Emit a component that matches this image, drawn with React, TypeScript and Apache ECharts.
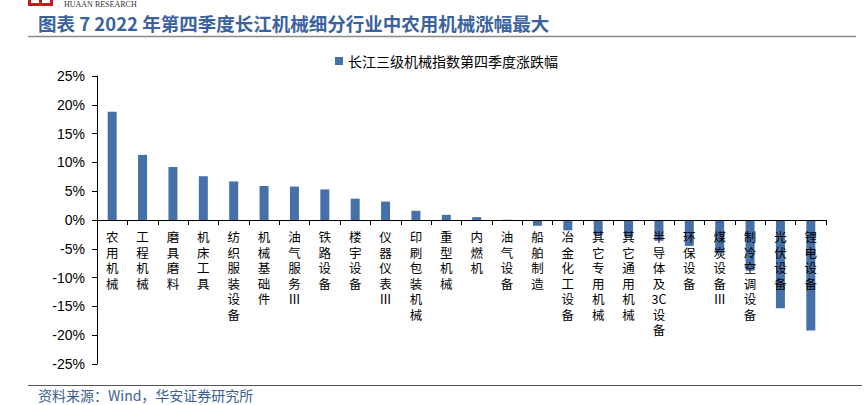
import React, { useEffect, useRef } from "react";
import * as echarts from "echarts";

const categories = [
  "农用机械", "工程机械", "磨具磨料", "机床工具", "纺织服装设备", "机械基础件",
  "油气服务Ⅲ", "铁路设备", "楼宇设备", "仪器仪表Ⅲ", "印刷包装机械", "重型机械",
  "内燃机", "油气设备", "船舶制造", "冶金化工设备", "其它专用机械", "其它通用机械",
  "半导体及3C设备", "环保设备", "煤炭设备Ⅲ", "制冷空调设备", "光伏设备", "锂电设备",
];
const changePct = [
  18.8, 11.3, 9.2, 7.6, 6.7, 5.9, 5.8, 5.3, 3.7, 3.2, 1.6, 0.9,
  0.5, 0.05, -1.0, -1.8, -2.6, -2.9, -3.6, -4.5, -5.8, -8.8, -15.3, -19.2,
];
const yMin = -25;
const yMax = 25;
const yStep = 5;
const seriesName = "长江三级机械指数第四季度涨跌幅";
const titleText = "图表 7 2022 年第四季度长江机械细分行业中农用机械涨幅最大";
const sourceText = "资料来源：Wind，华安证券研究所";

function verticalize(s: string): string {
  const parts: string[] = [];
  let i = 0;
  while (i < s.length) {
    if (/[0-9A-Za-z]/.test(s[i])) {
      let j = i;
      while (j < s.length && /[0-9A-Za-z]/.test(s[j])) j++;
      parts.push(s.slice(i, j));
      i = j;
    } else {
      parts.push(s[i]);
      i++;
    }
  }
  return parts.join("\n");
}

export default function App() {
  const ref = useRef<HTMLDivElement>(null);
  useEffect(() => {
    if (!ref.current) return;
    const chart = echarts.init(ref.current, null, { renderer: "svg" });
    const blue = "#3A62A0";
    const gridTop = 76;
    const gridBottom = 41;
    const plotH = 405 - gridTop - gridBottom;
    // move the category axis from the grid bottom up to the zero line
    const zeroOffset = -plotH * (0 - yMin) / (yMax - yMin);
    chart.setOption({
      animation: false,
      backgroundColor: "#ffffff",
      grid: { left: 97, right: 41, top: gridTop, bottom: gridBottom, containLabel: false, outerBoundsMode: "none" },
      legend: {
        data: [seriesName],
        top: 49,
        left: 330,
        itemWidth: 8,
        itemHeight: 8,
        itemGap: 6,
        icon: "rect",
        textStyle: { fontFamily: "Noto Sans CJK SC", fontSize: 14, color: "#000" },
      },
      xAxis: {
        type: "category",
        data: categories,
        position: "bottom",
        offset: zeroOffset,
        axisLine: { onZero: false, lineStyle: { color: "#000", width: 1 } },
        axisTick: { show: true, length: 5, lineStyle: { color: "#000" } },
        axisLabel: {
          interval: 0,
          hideOverlap: false,
          margin: 9,
          fontFamily: "Noto Sans CJK SC",
          fontSize: 12.5,
          lineHeight: 15.5,
          color: "#000",
          verticalAlign: "top",
          formatter: (v: string) => verticalize(v),
        },
        z: 5,
      },
      yAxis: {
        type: "value",
        min: yMin,
        max: yMax,
        interval: yStep,
        splitLine: { show: false },
        axisLine: { show: true, onZero: false, lineStyle: { color: "#000", width: 1 } },
        axisTick: { show: true, length: 5, lineStyle: { color: "#000" } },
        axisLabel: {
          formatter: "{value}%",
          fontFamily: "Liberation Sans",
          fontSize: 14,
          color: "#000",
          margin: 12,
        },
      },
      series: [
        {
          name: seriesName,
          type: "bar",
          data: changePct,
          barWidth: 9,
          z: 1,
          itemStyle: { color: "#4670A8" },
        },
      ],
      graphic: [
        { type: "rect", shape: { x: 28, y: -6, width: 25, height: 12 }, style: { fill: "#C8171E" } },
        { type: "rect", shape: { x: 31, y: -6, width: 8, height: 9 }, style: { fill: "#fff" } },
        { type: "rect", shape: { x: 42, y: -6, width: 8, height: 9 }, style: { fill: "#fff" } },
        {
          type: "text",
          x: 64,
          y: 0,
          style: { text: "HUAAN RESEARCH", fontFamily: "Liberation Serif", fontSize: 8, fill: "#333" },
        },
        {
          type: "text",
          x: 38,
          y: 14,
          style: { text: titleText, fontFamily: "Noto Sans CJK SC", fontWeight: "bold", fontSize: 18.5, fill: blue },
        },
        { type: "line", shape: { x1: 28, y1: 36.5, x2: 856, y2: 36.5 }, style: { stroke: "#8a8a8a", lineWidth: 1.5 } },
        { type: "line", shape: { x1: 28, y1: 385.5, x2: 862, y2: 385.5 }, style: { stroke: "#555", lineWidth: 1 } },
        {
          type: "text",
          x: 38,
          y: 388,
          style: { text: sourceText, fontFamily: "Noto Sans CJK SC", fontSize: 14, fill: "#3A5E94" },
        },
      ],
    });
    return () => chart.dispose();
  }, []);
  return (
    <div
      ref={ref}
      style={{ position: "absolute", left: 0, top: 0, width: 867, height: 405 }}
    />
  );
}
